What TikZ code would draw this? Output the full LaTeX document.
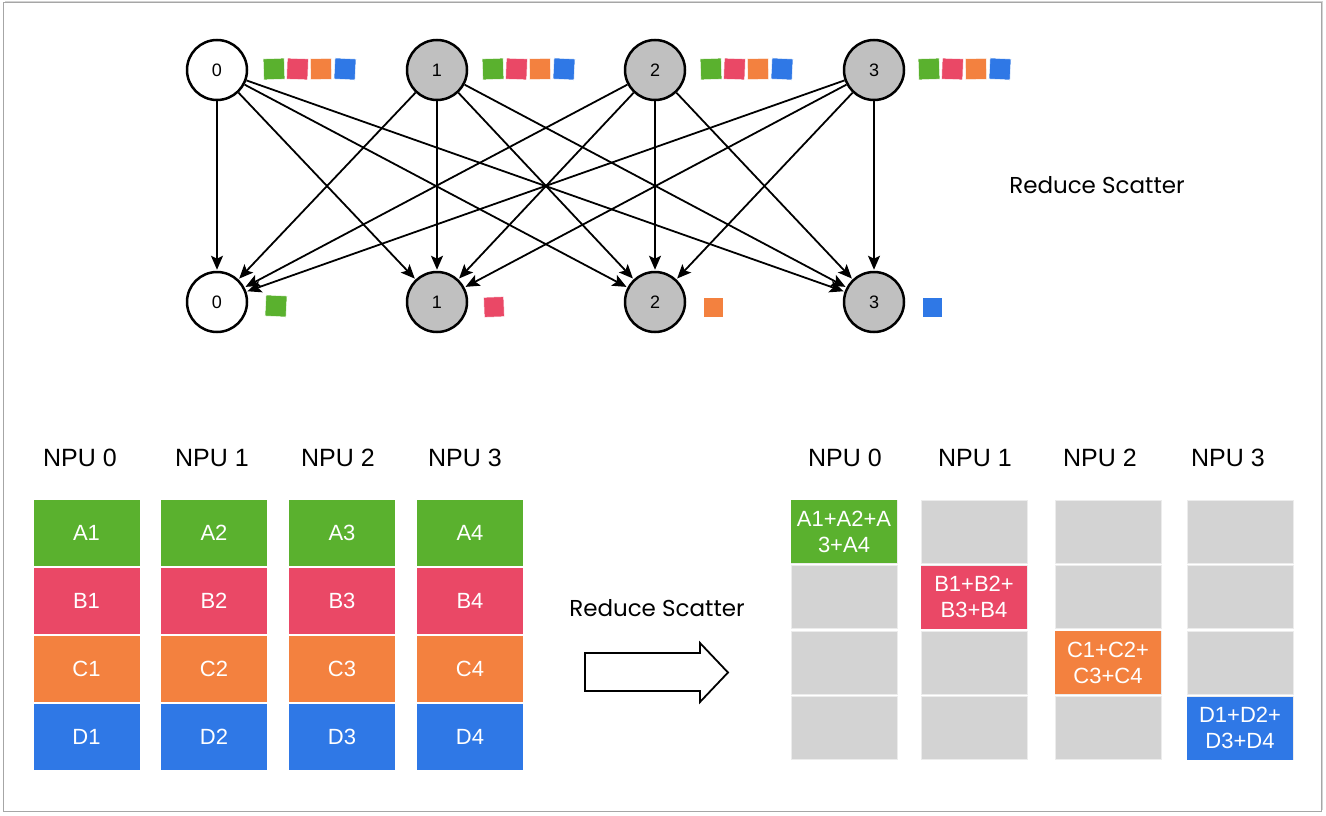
\documentclass[tikz,border=0pt]{standalone}
\usepackage{fontspec}
\setmainfont{Liberation Sans}
\newfontfamily\handfont{Poppins}
\usetikzlibrary{arrows.meta,shadows}
\definecolor{cgreen}{HTML}{5AB12E}
\definecolor{cpink}{HTML}{EA4866}
\definecolor{corange}{HTML}{F3813F}
\definecolor{cblue}{HTML}{2F78E6}
\definecolor{cgray}{HTML}{D3D3D3}
\definecolor{ngray}{HTML}{C0C0C0}
\begin{document}
\begin{tikzpicture}[x=1pt,y=-1pt,
  npu/.style={circle,draw=black,line width=2.5pt,minimum size=60pt,inner sep=0pt,font=\fontsize{18}{18}\selectfont},
  sq/.style={minimum size=21pt,inner sep=0pt,draw=white,line width=0.5pt},
  edge/.style={line width=1.8pt,-{Stealth[length=14pt,width=12pt,inset=3pt]},shorten >=1pt},
  cell/.style={minimum width=106pt,minimum height=66pt,inner sep=0pt,text=white,font=\fontsize{22}{26}\selectfont,align=center},
  rcell/.style={minimum width=106pt,minimum height=63pt,inner sep=0pt,text=white,font=\fontsize{22}{26}\selectfont,align=center,draw=white!85!gray,line width=0.8pt},
  lbl/.style={font=\fontsize{25}{25}\selectfont},
  hand/.style={font=\handfont\fontsize{23}{23}\selectfont}
]
\useasboundingbox (0,0) rectangle (1326,816);
\draw[draw=gray!70,line width=1pt,fill=white,drop shadow={shadow xshift=1.5pt,shadow yshift=1.5pt,opacity=0.35}] (3,3) rectangle (1321,811);

% top nodes
\node[npu,fill=white] (t0) at (217,70) {0};
\node[npu,fill=ngray] (t1) at (437,70) {1};
\node[npu,fill=ngray] (t2) at (655,70) {2};
\node[npu,fill=ngray] (t3) at (874,70) {3};
% bottom nodes
\node[npu,fill=white] (b0) at (217,302) {0};
\node[npu,fill=ngray] (b1) at (437,302) {1};
\node[npu,fill=ngray] (b2) at (655,302) {2};
\node[npu,fill=ngray] (b3) at (874,302) {3};

\foreach \i in {0,...,3}{
  \foreach \j in {0,...,3}{
    \draw[edge] (t\i) -- (b\j);
  }
}

% top squares
\foreach \k/\x in {0/274,1/493,2/711,3/929}{
  \node[sq,fill=cgreen,rotate=2] (g\k) at (\x,69) {};
  \node[sq,fill=cpink,rotate=-2] (p\k) at (\x+23.5,69) {};
  \node[sq,fill=corange,rotate=1] (o\k) at (\x+47,69) {};
  \node[sq,fill=cblue,rotate=-3] (u\k) at (\x+71,69) {};
}
% bottom squares
\node[sq,fill=cgreen,rotate=-3] (bg) at (276,306) {};
\node[sq,fill=cpink,rotate=2,minimum size=20pt] (bp) at (494,307) {};
\node[sq,fill=corange,minimum size=20pt] (bo) at (713,307) {};
\node[sq,fill=cblue,minimum size=20pt] (bu) at (932,307) {};

\node[hand] (rs1) at (1097,185) {Reduce Scatter};

% bottom left
\foreach \c/\x in {0/80,1/212,2/338,3/465}{
  \node[lbl] (ln\c) at (\x,458) {NPU \c};
}
\foreach \c/\x in {1/86.5,2/214,3/342,4/470}{
  \node[cell,fill=cgreen] (A\c) at (\x,533) {A\c};
  \node[cell,fill=cpink] (B\c) at (\x,601) {B\c};
  \node[cell,fill=corange] (C\c) at (\x,669) {C\c};
  \node[cell,fill=cblue] (D\c) at (\x,737) {D\c};
}

% arrow
\node[hand] (rs2) at (657,608) {Reduce Scatter};
\coordinate (a0) at (585,653);
\draw[line width=1.8pt,fill=white,line join=miter] (a0) -- (700,653) -- (700,643) -- (728,672.5) -- (700,702) -- (700,691) -- (585,691) -- cycle;

% bottom right
\foreach \c/\x in {0/845,1/975,2/1100,3/1228}{
  \node[lbl] (rn\c) at (\x,458) {NPU \c};
}
\foreach \c/\x in {0/844,1/974,2/1108,3/1240}{
  \node[rcell,fill=cgray] (r\c a) at (\x,531.5) {};
  \node[rcell,fill=cgray] (r\c b) at (\x,597) {};
  \node[rcell,fill=cgray] (r\c c) at (\x,662.5) {};
  \node[rcell,fill=cgray] (r\c d) at (\x,728) {};
}
\node[rcell,fill=cgreen,draw=none] (sA) at (844,531.5) {A1+A2+A\\3+A4};
\node[rcell,fill=cpink,draw=none] (sB) at (974,597) {B1+B2+\\B3+B4};
\node[rcell,fill=corange,draw=none] (sC) at (1108,662.5) {C1+C2+\\C3+C4};
\node[rcell,fill=cblue,draw=none] (sD) at (1240,728) {D1+D2+\\D3+D4};
\end{tikzpicture}
\end{document}
